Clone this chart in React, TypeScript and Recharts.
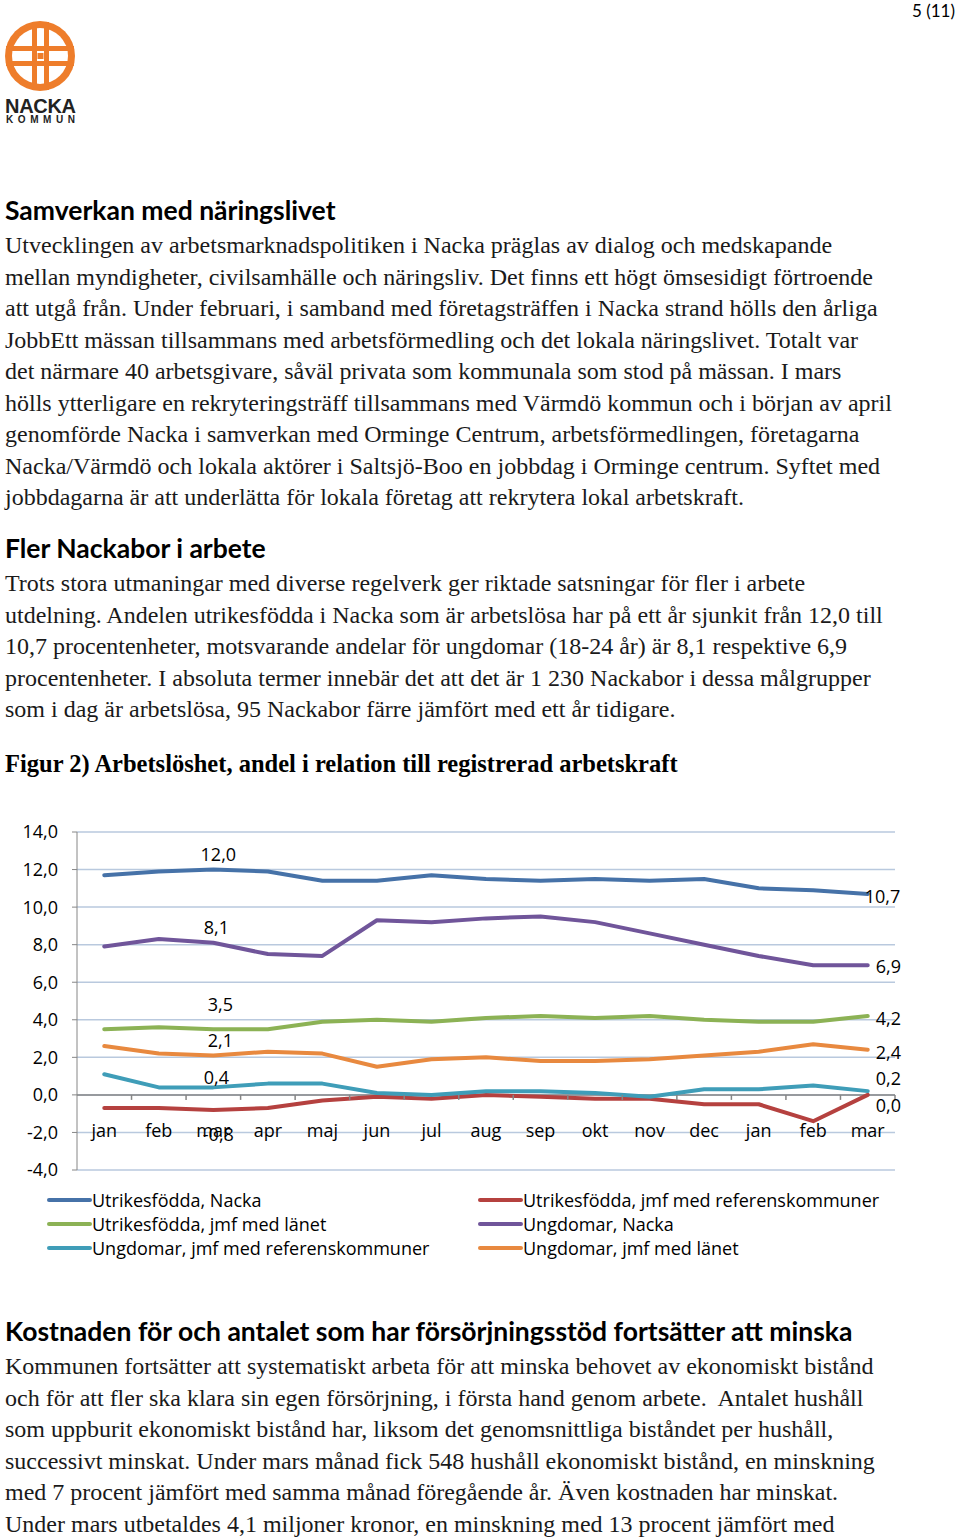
import React from 'react';
import { LineChart, Line, XAxis, YAxis, CartesianGrid, ReferenceLine, Legend, LabelList } from 'recharts';

const months = ['jan', 'feb', 'mar', 'apr', 'maj', 'jun', 'jul', 'aug', 'sep', 'okt', 'nov', 'dec', 'jan', 'feb', 'mar'];
const utrNacka = [11.7, 11.9, 12.0, 11.9, 11.4, 11.4, 11.7, 11.5, 11.4, 11.5, 11.4, 11.5, 11.0, 10.9, 10.7];
const utrRef = [-0.7, -0.7, -0.8, -0.7, -0.3, -0.1, -0.2, 0.0, -0.1, -0.2, -0.2, -0.5, -0.5, -1.4, 0.0];
const utrLan = [3.5, 3.6, 3.5, 3.5, 3.9, 4.0, 3.9, 4.1, 4.2, 4.1, 4.2, 4.0, 3.9, 3.9, 4.2];
const ungNacka = [7.9, 8.3, 8.1, 7.5, 7.4, 9.3, 9.2, 9.4, 9.5, 9.2, 8.6, 8.0, 7.4, 6.9, 6.9];
const ungRef = [1.1, 0.4, 0.4, 0.6, 0.6, 0.1, 0.0, 0.2, 0.2, 0.1, -0.1, 0.3, 0.3, 0.5, 0.2];
const ungLan = [2.6, 2.2, 2.1, 2.3, 2.2, 1.5, 1.9, 2.0, 1.8, 1.8, 1.9, 2.1, 2.3, 2.7, 2.4];
const yTicks = [-4, -2, 0, 2, 4, 6, 8, 10, 12, 14];

const data = months.map((m, i) => ({
  idx: i,
  utrNacka: utrNacka[i],
  utrRef: utrRef[i],
  utrLan: utrLan[i],
  ungNacka: ungNacka[i],
  ungRef: ungRef[i],
  ungLan: ungLan[i],
}));

// serieordning som i Excel-legenden (radvis)
const SERIES = [
  { key: 'utrNacka', name: 'Utrikesfödda, Nacka', color: '#4672A8', mid: [5, -16], end: [-3, 2] },
  { key: 'utrRef', name: 'Utrikesfödda, jmf med referenskommuner', color: '#B5413F', mid: [5, 24], end: [8, 10] },
  { key: 'utrLan', name: 'Utrikesfödda, jmf med länet', color: '#8CB255', mid: [7, -25], end: [8, 2] },
  { key: 'ungNacka', name: 'Ungdomar, Nacka', color: '#70559A', mid: [3, -16], end: [8, 1] },
  { key: 'ungRef', name: 'Ungdomar, jmf med referenskommuner', color: '#3F9DB8', mid: [3, -10], end: [8, -13] },
  { key: 'ungLan', name: 'Ungdomar, jmf med länet', color: '#E8893F', mid: [7, -15], end: [8, 2] },
];

const Y_MIN = -4;
const Y_MAX = 14;
const PLOT_W = 818;
const PLOT_H = 338;
const BAND = PLOT_W / months.length;
const CHART_FONT = '"Open Sans", sans-serif';

const fmt = (v: number) => v.toFixed(1).replace('.', ',');

const MonthTick = (props: any) => {
  const { x, y, payload } = props;
  const zeroY = y - (PLOT_H * (0 - Y_MIN)) / (Y_MAX - Y_MIN);
  return (
    <g>
      <line x1={x + BAND / 2} x2={x + BAND / 2} y1={zeroY} y2={zeroY + 5} stroke="#868686" strokeWidth={1.5} />
      <text x={x} y={zeroY + 35} textAnchor="middle" dominantBaseline="central" fontSize={18} fontFamily={CHART_FONT} fill="#000">
        {months[payload.value]}
      </text>
    </g>
  );
};

const makeLabel = (mid: number[], end: number[]) => (props: any) => {
  const { x, y, value, index } = props;
  if (index === 2) {
    return (
      <text x={x + mid[0]} y={y + mid[1]} textAnchor="middle" dominantBaseline="central" fontSize={18} fontFamily={CHART_FONT} fill="#000">
        {fmt(value)}
      </text>
    );
  }
  if (index === months.length - 1) {
    return (
      <text x={x + end[0]} y={y + end[1]} textAnchor="start" dominantBaseline="central" fontSize={18} fontFamily={CHART_FONT} fill="#000">
        {fmt(value)}
      </text>
    );
  }
  return null;
};

const renderLegend = () => (
  <div style={{ display: 'grid', gridTemplateColumns: '431px 460px', paddingLeft: 47, paddingTop: 8, fontFamily: CHART_FONT }}>
    {SERIES.map((s) => (
      <div key={s.key} style={{ display: 'flex', alignItems: 'center', height: 24 }}>
        <span style={{ display: 'inline-block', width: 45, height: 4, background: s.color, borderRadius: 2 }} />
        <span style={{ fontSize: 18, color: '#000', whiteSpace: 'nowrap' }}>{s.name}</span>
      </div>
    ))}
  </div>
);

const para1 = [
  'Utvecklingen av arbetsmarknadspolitiken i Nacka präglas av dialog och medskapande',
  'mellan myndigheter, civilsamhälle och näringsliv. Det finns ett högt ömsesidigt förtroende',
  'att utgå från. Under februari, i samband med företagsträffen i Nacka strand hölls den årliga',
  'JobbEtt mässan tillsammans med arbetsförmedling och det lokala näringslivet. Totalt var',
  'det närmare 40 arbetsgivare, såväl privata som kommunala som stod på mässan. I mars',
  'hölls ytterligare en rekryteringsträff tillsammans med Värmdö kommun och i början av april',
  'genomförde Nacka i samverkan med Orminge Centrum, arbetsförmedlingen, företagarna',
  'Nacka/Värmdö och lokala aktörer i Saltsjö-Boo en jobbdag i Orminge centrum. Syftet med',
  'jobbdagarna är att underlätta för lokala företag att rekrytera lokal arbetskraft.',
];
const para2 = [
  'Trots stora utmaningar med diverse regelverk ger riktade satsningar för fler i arbete',
  'utdelning. Andelen utrikesfödda i Nacka som är arbetslösa har på ett år sjunkit från 12,0 till',
  '10,7 procentenheter, motsvarande andelar för ungdomar (18-24 år) är 8,1 respektive 6,9',
  'procentenheter. I absoluta termer innebär det att det är 1 230 Nackabor i dessa målgrupper',
  'som i dag är arbetslösa, 95 Nackabor färre jämfört med ett år tidigare.',
];
const para3 = [
  'Kommunen fortsätter att systematiskt arbeta för att minska behovet av ekonomiskt bistånd',
  'och för att fler ska klara sin egen försörjning, i första hand genom arbete.  Antalet hushåll',
  'som uppburit ekonomiskt bistånd har, liksom det genomsnittliga biståndet per hushåll,',
  'successivt minskat. Under mars månad fick 548 hushåll ekonomiskt bistånd, en minskning',
  'med 7 procent jämfört med samma månad föregående år. Även kostnaden har minskat.',
  'Under mars utbetaldes 4,1 miljoner kronor, en minskning med 13 procent jämfört med',
];

const serif = '"Liberation Serif", "Times New Roman", serif';
const headFont = 'Lato, "Noto Sans", sans-serif';

const TextLines = ({ lines, top }: { lines: string[]; top: number }) => (
  <>
    {lines.map((l, i) => (
      <div
        key={i}
        style={{
          position: 'absolute',
          left: 5,
          top: top + i * 31.5 - 15,
          height: 30,
          lineHeight: '30px',
          fontFamily: serif,
          fontSize: 24,
          color: '#1a1a1a',
          whiteSpace: 'pre',
        }}
      >
        {l}
      </div>
    ))}
  </>
);

const Heading = ({ text, top }: { text: string; top: number }) => (
  <div style={{ position: 'absolute', left: 5, top: top - 15, lineHeight: '30px', fontFamily: headFont, fontWeight: 700, fontSize: 26.5, color: '#000', whiteSpace: 'nowrap' }}>
    {text}
  </div>
);

const Logo = () => (
  <svg width={90} height={130} style={{ position: 'absolute', left: 0, top: 0 }}>
    <circle cx={40} cy={56} r={35} fill="#EE7D2B" />
    <circle cx={40} cy={56} r={28} fill="#fff" />
    <rect x={32} y={22} width={5} height={68} fill="#EE7D2B" />
    <rect x={44} y={22} width={5} height={68} fill="#EE7D2B" />
    <rect x={6} y={46} width={68} height={5} fill="#EE7D2B" />
    <rect x={6} y={61} width={68} height={5} fill="#EE7D2B" />
    <rect x={37.5} y={53} width={6} height={6} fill="#EE7D2B" />
    <text x={5} y={113} fontFamily='"Liberation Sans", sans-serif' fontWeight={700} fontSize={20} fill="#222" textLength={71}>
      NACKA
    </text>
    <text x={6} y={123} fontFamily='"Liberation Sans", sans-serif' fontWeight={700} fontSize={10} fill="#222" textLength={69}>
      KOMMUN
    </text>
  </svg>
);

export default function App() {
  return (
    <div style={{ position: 'absolute', left: 0, top: 0, width: 960, height: 1537, background: '#fff', overflow: 'hidden' }}>
      <Logo />
      <div style={{ position: 'absolute', left: 912, top: 0, lineHeight: '22px', fontFamily: headFont, fontSize: 17, color: '#000' }}>5 (11)</div>

      <Heading text="Samverkan med näringslivet" top={210} />
      <TextLines lines={para1} top={245} />
      <Heading text="Fler Nackabor i arbete" top={548} />
      <TextLines lines={para2} top={583} />
      <div style={{ position: 'absolute', left: 5, top: 749, lineHeight: '30px', fontFamily: serif, fontWeight: 700, fontSize: 24.5, color: '#000', whiteSpace: 'nowrap' }}>
        Figur 2) Arbetslöshet, andel i relation till registrerad arbetskraft
      </div>

      <div style={{ position: 'absolute', left: 0, top: 812 }}>
        <LineChart width={960} height={458} data={data} margin={{ top: 20, right: 65, bottom: 10, left: 15 }}>
          <CartesianGrid vertical={false} stroke="#B9C9DE" strokeWidth={1.5} />
          <XAxis
            dataKey="idx"
            type="category"
            scale="band"
            height={10}
            axisLine={false}
            tickLine={false}
            tickSize={0}
            tickMargin={0}
            interval={0}
            tick={<MonthTick />}
          />
          <YAxis
            width={62}
            domain={[Y_MIN, Y_MAX]}
            ticks={yTicks}
            interval={0}
            tickFormatter={fmt}
            stroke="#868686"
            tickSize={5}
            tickMargin={14}
            tick={{ fontSize: 18, fontFamily: CHART_FONT, fill: '#000' }}
          />
          <ReferenceLine y={0} stroke="#868686" strokeWidth={1.5} />
          <Legend verticalAlign="bottom" content={renderLegend} wrapperStyle={{ left: 0, width: 960 }} />
          {SERIES.map((s) => (
            <Line
              key={s.key}
              dataKey={s.key}
              name={s.name}
              stroke={s.color}
              strokeWidth={4}
              strokeLinecap="round"
              strokeLinejoin="round"
              dot={false}
              activeDot={false}
              type="linear"
              isAnimationActive={false}
            >
              <LabelList dataKey={s.key} content={makeLabel(s.mid, s.end)} />
            </Line>
          ))}
        </LineChart>
      </div>

      <Heading text="Kostnaden för och antalet som har försörjningsstöd fortsätter att minska" top={1331} />
      <TextLines lines={para3} top={1366} />
    </div>
  );
}
